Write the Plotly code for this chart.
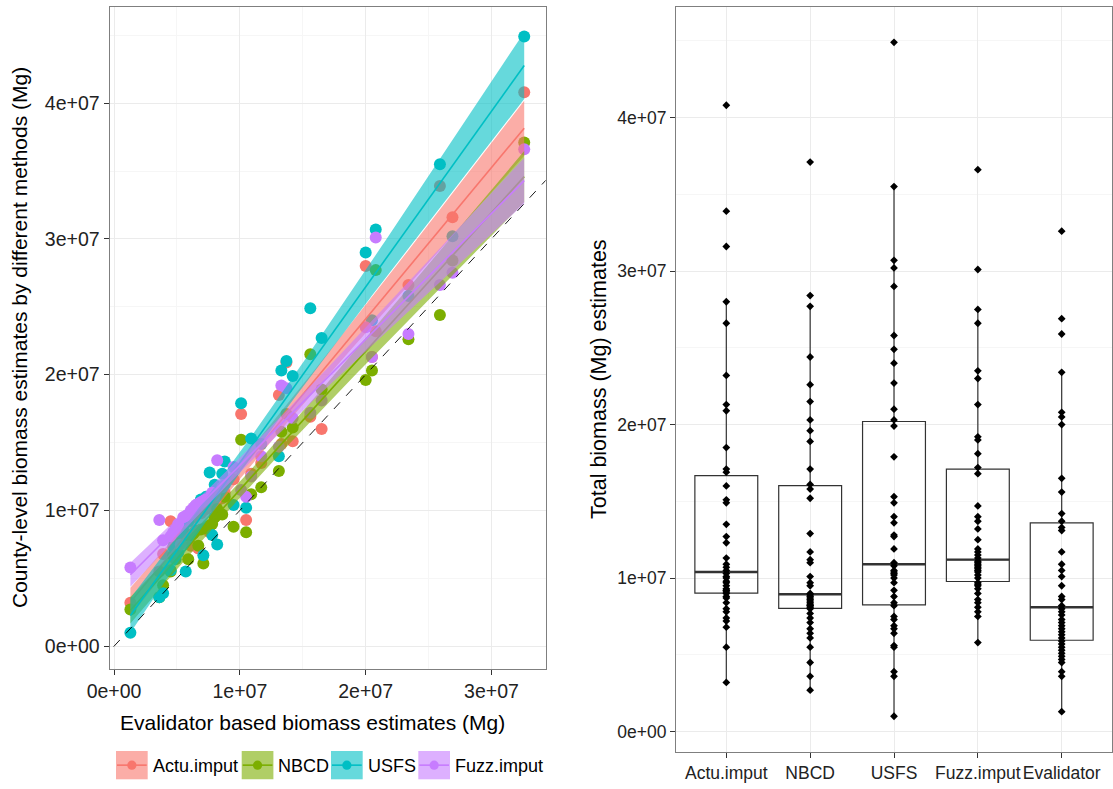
import numpy as np
import plotly.graph_objects as go

W, H = 1113, 789
UNIT = 1e6  # stored values are in millions of Mg

# ---- data (one entry per county, same order in every list) ----
evalidator = [32.6, 26.9, 25.9, 23.4, 20.8, 20.5, 20.0, 16.5, 15.6, 14.2, 13.7, 13.3, 13.1, 11.7,
              10.9, 10.5, 10.1, 9.5, 8.8, 8.6, 8.2, 8.0, 7.8, 7.6, 7.3, 7.1, 6.9, 6.7, 6.5, 6.3,
              6.1, 5.9, 5.7, 5.5, 5.3, 5.1, 4.9, 4.7, 4.5, 3.9, 3.6, 1.3]
actu_imput = [40.8, 31.6, 33.9, 26.6, 23.2, 21.3, 28.0, 16.0, 16.9, 15.1, 20.9, 14.9, 18.5, 13.5,
              12.7, 9.3, 17.1, 12.3, 11.3, 10.9, 10.7, 10.5, 10.3, 8.4, 10.1, 10.0, 9.8, 7.2, 9.7, 9.5,
              7.4, 9.2, 9.1, 9.0, 8.8, 8.7, 8.0, 7.8, 9.2, 6.8, 5.5, 3.2]
nbcd = [37.1, 28.4, 24.4, 22.6, 27.7, 20.3, 19.6, 18.9, 21.5, 16.1, 17.1, 15.8, 12.9, 11.7,
        11.2, 8.4, 15.2, 8.8, 11.0, 9.7, 10.1, 9.5, 9.0, 8.9, 8.7, 6.1, 8.6, 7.4, 8.5, 8.3,
        8.2, 6.4, 8.2, 8.1, 8.0, 7.7, 7.1, 6.7, 5.5, 4.5, 3.6, 2.7]
usfs = [44.9, 30.2, 35.5, 25.8, 30.7, 24.0, 29.0, 22.7, 24.9, 19.9, 21.0, 20.3, 14.0, 14.9,
        15.3, 10.2, 17.9, 10.4, 13.6, 12.7, 7.5, 11.9, 8.2, 12.8, 11.0, 6.7, 10.8, 10.5, 10.3, 10.0,
        9.7, 9.2, 5.5, 8.8, 8.4, 6.9, 6.4, 7.3, 5.6, 3.9, 3.6, 1.0]
fuzz_imput = [36.6, 27.5, 26.6, 23.0, 30.1, 21.3, 23.5, 18.1, 17.2, 16.8, 19.0, 19.2, 14.7, 14.0,
              12.5, 11.0, 11.5, 13.2, 11.9, 11.7, 13.7, 11.1, 11.3, 10.9, 10.8, 10.7, 10.6, 10.5, 10.4, 10.2,
              10.0, 9.7, 9.6, 9.5, 7.5, 9.0, 8.6, 8.4, 8.1, 7.8, 9.3, 5.8]

methods = ["Actu.imput", "NBCD", "USFS", "Fuzz.imput"]
method_values = [actu_imput, nbcd, usfs, fuzz_imput]
box_labels = ["Actu.imput", "NBCD", "USFS", "Fuzz.imput", "Evalidator"]
box_values = [actu_imput, nbcd, usfs, fuzz_imput, evalidator]

y_tick_values = [0, 1e7, 2e7, 3e7, 4e7]
y_tick_labels = ["0e+00", "1e+07", "2e+07", "3e+07", "4e+07"]
x_tick_values = [0, 1e7, 2e7, 3e7]
x_tick_labels = ["0e+00", "1e+07", "2e+07", "3e+07"]
minor_y = [5e6, 15e6, 25e6, 35e6, 45e6]
minor_x = [5e6, 15e6, 25e6]

# ---- style ----
colors = ["#F8766D", "#7CAE00", "#00BFC4", "#C77CFF"]
FONT = "Liberation Sans, Arial, sans-serif"
BAND_ALPHA = 0.6
T975 = 2.021  # t quantile, df = n - 2


def rgba(hexc, a):
    h = hexc.lstrip("#")
    return "rgba(%d,%d,%d,%.3f)" % (int(h[0:2], 16), int(h[2:4], 16), int(h[4:6], 16), a)


def px(p):
    return p / W


def py(p):
    return 1 - p / H


fig = go.Figure()

# ---- left panel: scatter ----
x = np.array(evalidator) * UNIT
for name, vals, col in zip(methods, method_values, colors):
    fig.add_trace(go.Scatter(x=x, y=np.array(vals) * UNIT, mode="markers", name=name,
                             marker=dict(color=col, size=12, line=dict(width=0)),
                             xaxis="x", yaxis="y", showlegend=False))

n = len(x)
xm = x.mean()
sxx = ((x - xm) ** 2).sum()
xs = np.linspace(x.min(), x.max(), 120)
for name, vals, col in zip(methods, method_values, colors):
    y = np.array(vals) * UNIT
    slope, icpt = np.polyfit(x, y, 1)
    res = y - (icpt + slope * x)
    s = np.sqrt((res ** 2).sum() / (n - 2))
    fit = icpt + slope * xs
    se = s * np.sqrt(1.0 / n + (xs - xm) ** 2 / sxx)
    fig.add_trace(go.Scatter(x=np.concatenate([xs, xs[::-1]]),
                             y=np.concatenate([fit + T975 * se, (fit - T975 * se)[::-1]]),
                             fill="toself", fillcolor=rgba(col, BAND_ALPHA), mode="lines",
                             line=dict(width=0), hoverinfo="skip", showlegend=False,
                             xaxis="x", yaxis="y"))
    fig.add_trace(go.Scatter(x=xs, y=fit, mode="lines", line=dict(color=col, width=1.6),
                             showlegend=False, xaxis="x", yaxis="y"))

one_to_one = [-1e6, 3.5e7]
fig.add_trace(go.Scatter(x=one_to_one, y=one_to_one, mode="lines",
                         line=dict(color="black", width=0.9, dash="dash"),
                         showlegend=False, xaxis="x", yaxis="y"))

# ---- right panel: boxplots ----
for i, vals in enumerate(box_values):
    v = np.array(vals) * UNIT
    q1, med, q3 = np.percentile(v, [25, 50, 75])
    iqr = q3 - q1
    lo = v[v >= q1 - 1.5 * iqr].min()
    hi = v[v <= q3 + 1.5 * iqr].max()
    fig.add_trace(go.Box(x=[i], q1=[q1], median=[med], q3=[q3], lowerfence=[lo], upperfence=[hi],
                         width=0.75, whiskerwidth=0, fillcolor="rgba(255,255,255,0)",
                         line=dict(color="#333333", width=1.2), boxpoints=False,
                         orientation="v", xaxis="x2", yaxis="y2", showlegend=False))
    fig.add_trace(go.Scatter(x=[i - 0.375, i + 0.375], y=[med, med], mode="lines",
                             line=dict(color="#333333", width=2.4), showlegend=False,
                             xaxis="x2", yaxis="y2"))
    fig.add_trace(go.Scatter(x=[i] * len(v), y=v, mode="markers",
                             marker=dict(symbol="diamond", color="black", size=6),
                             showlegend=False, xaxis="x2", yaxis="y2"))

# ---- axes ----
common = dict(showline=True, mirror=True, linecolor="#7F7F7F", linewidth=1,
              ticks="outside", ticklen=5, tickwidth=1, tickcolor="#333333",
              showgrid=True, gridcolor="#EBEBEB", gridwidth=1, zeroline=False,
              automargin=False)
minor_style = dict(showgrid=True, gridcolor="#F6F6F6", gridwidth=1, ticks="")
left_tick_font = dict(family=FONT, size=19.5, color="#222222")
right_tick_font = dict(family=FONT, size=17.5, color="#222222")

fig.update_layout(
    width=W, height=H, margin=dict(l=0, r=0, t=0, b=0, pad=0, autoexpand=False),
    paper_bgcolor="white", plot_bgcolor="white", showlegend=False,
    font=dict(family=FONT, color="black"),
    xaxis=dict(domain=[px(109.5), px(545.6)], range=[-0.036e7, 3.43e7], anchor="y",
               tickmode="array", tickvals=x_tick_values, ticktext=x_tick_labels,
               tickfont=left_tick_font,
               minor=dict(tickmode="array", tickvals=minor_x, **minor_style), **common),
    yaxis=dict(domain=[py(668.5), py(6.7)], range=[-0.164e7, 4.71e7], anchor="x",
               tickmode="array", tickvals=y_tick_values, ticktext=y_tick_labels,
               tickfont=left_tick_font,
               minor=dict(tickmode="array", tickvals=minor_y, **minor_style), **common),
    xaxis2=dict(domain=[px(676), px(1112)], range=[-0.6, 4.6], anchor="y2",
                tickmode="array", tickvals=list(range(len(box_labels))), ticktext=box_labels,
                tickangle=0, tickfont=right_tick_font, **common),
    yaxis2=dict(domain=[py(752), py(7)], range=[-0.133e7, 4.72e7], anchor="x2",
                tickmode="array", tickvals=y_tick_values, ticktext=y_tick_labels,
                tickfont=right_tick_font,
                minor=dict(tickmode="array", tickvals=minor_y, **minor_style), **common),
)

# ---- axis titles ----
left_title_font = dict(family=FONT, size=21, color="black")
right_title_font = dict(family=FONT, size=21.5, color="black")
fig.add_annotation(text="County-level biomass estimates by different methods (Mg)", textangle=-90,
                   x=px(20), y=py(338), xref="paper", yref="paper", showarrow=False,
                   font=left_title_font, xanchor="center", yanchor="middle")
fig.add_annotation(text="Evalidator based biomass estimates (Mg)",
                   x=px(312), y=py(722), xref="paper", yref="paper", showarrow=False,
                   font=left_title_font, xanchor="center", yanchor="middle")
fig.add_annotation(text="Total biomass (Mg) estimates", textangle=-90,
                   x=px(599), y=py(379), xref="paper", yref="paper", showarrow=False,
                   font=right_title_font, xanchor="center", yanchor="middle")

# ---- legend (drawn as keys + text) ----
key_left = [116, 241.7, 331, 418.3]
key_w, key_top, key_bot = 31.7, 751, 779.3
key_mid = (key_top + key_bot) / 2
for name, col, kx in zip(methods, colors, key_left):
    fig.add_shape(type="rect", xref="paper", yref="paper",
                  x0=px(kx), x1=px(kx + key_w), y0=py(key_bot), y1=py(key_top),
                  fillcolor=rgba(col, BAND_ALPHA), line=dict(width=0))
    fig.add_shape(type="line", xref="paper", yref="paper",
                  x0=px(kx + 1), x1=px(kx + key_w - 1), y0=py(key_mid), y1=py(key_mid),
                  line=dict(color=col, width=1.6))
    cx = kx + key_w / 2
    r = 4.6
    fig.add_shape(type="circle", xref="paper", yref="paper",
                  x0=px(cx - r), x1=px(cx + r), y0=py(key_mid + r), y1=py(key_mid - r),
                  fillcolor=col, line=dict(width=0))
    fig.add_annotation(text=name, x=px(kx + key_w + 3), y=py(key_mid + 1),
                       xref="paper", yref="paper", showarrow=False, xanchor="left", yanchor="middle",
                       font=dict(family=FONT, size=18, color="black"))

# the page body adds an 8px margin by default; remove it so the figure fills the window
fig.write_html("out.html", config={"displayModeBar": False},
               post_script="document.body.style.margin='0';document.body.style.overflow='hidden';")
